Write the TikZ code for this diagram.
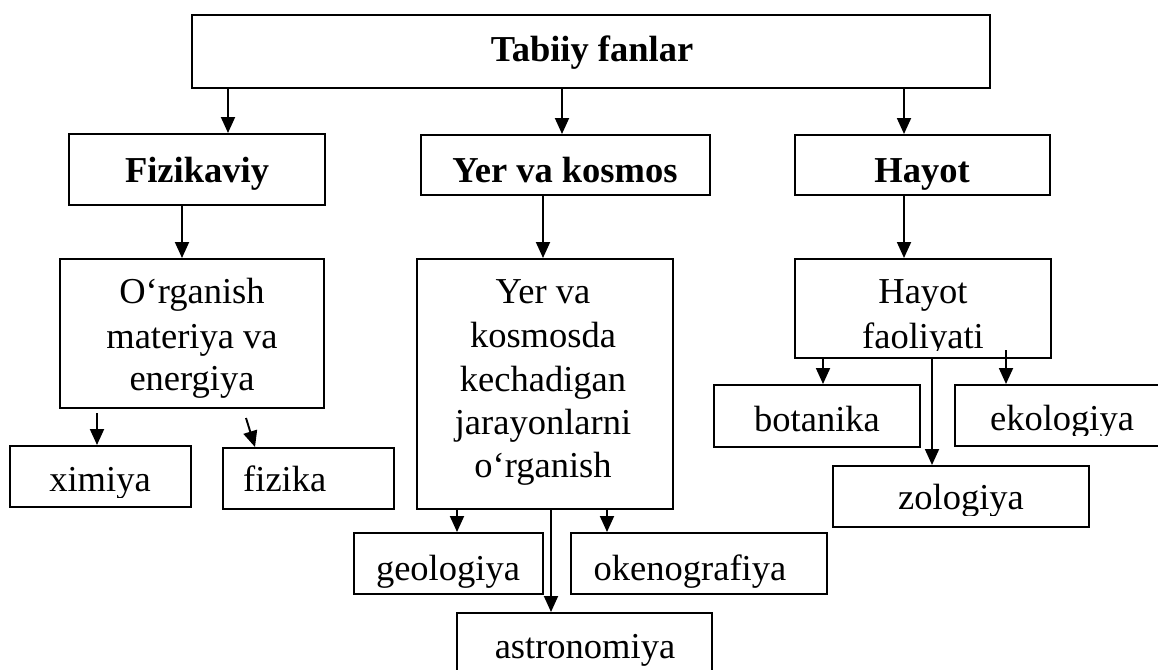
\documentclass[tikz,border=0pt]{standalone}
\usepackage{fontspec}
\setmainfont{Liberation Serif}
\usetikzlibrary{calc,arrows.meta}
\begin{document}
\begin{tikzpicture}[x=1pt,y=-1pt,
  box/.style={draw=black, line width=2pt, rectangle, inner sep=0pt},
  lbl/.style={anchor=base, inner sep=0pt, font=\fontsize{36.5}{44}\selectfont},
  lbll/.style={lbl, anchor=base west},
  head/.style={lbl, font=\fontsize{36.5}{44}\selectfont\bfseries},
  link/.style={-{Triangle[length=16pt,width=14pt]}, line width=1.9pt}]
\useasboundingbox[fill=white] (0,0) rectangle (1158,669);

% ---- boxes ----
\node[box, minimum width=798pt, minimum height=73pt] (root) at (591,51.5) {};
\node[box, minimum width=256pt, minimum height=71pt] (fiz) at (197,169.5) {};
\node[box, minimum width=289pt, minimum height=60pt] (yer) at (565.5,165) {};
\node[box, minimum width=255pt, minimum height=60pt] (hay) at (922.5,165) {};

\node[box, minimum width=264pt, minimum height=149pt] (org) at (192,333.5) {};
\node[box, minimum width=256pt, minimum height=250pt] (yks) at (545,384) {};
\node[box, minimum width=256pt, minimum height=99pt] (hf) at (923,308.5) {};

\node[box, minimum width=181pt, minimum height=61pt] (xim) at (100.5,476.5) {};
\node[box, minimum width=171pt, minimum height=61pt] (fzk) at (308.5,478.5) {};
\node[box, minimum width=189pt, minimum height=61pt] (geo) at (448.5,563.5) {};
\node[box, minimum width=256pt, minimum height=61pt] (oke) at (699,563.5) {};
\node[box, minimum width=255pt, minimum height=77pt] (ast) at (584.5,651.5) {};
\node[box, minimum width=206pt, minimum height=62pt] (bot) at (817,416) {};
\node[box, minimum width=207pt, minimum height=61pt] (eko) at (1058.5,415.5) {};
\node[box, minimum width=256pt, minimum height=61pt] (zol) at (961,496.5) {};

% ---- headings ----
\node[head] (root-t) at (592,62) {Tabiiy fanlar};
\node[head] (fiz-t) at (197,182) {Fizikaviy};
\node[head] (yer-t) at (565,182) {Yer va kosmos};
\node[head] (hay-t) at (922,182) {Hayot};

% ---- descriptions ----
\node[lbl] (org-1) at (192,303) {O‘rganish};
\node[lbl] (org-2) at (192,348) {materiya va};
\node[lbl] (org-3) at (192,390) {energiya};

\node[lbl] (yks-1) at (543,303) {Yer va};
\node[lbl] (yks-2) at (543,347) {kosmosda};
\node[lbl] (yks-3) at (543,391) {kechadigan};
\node[lbl] (yks-4) at (543,434) {jarayonlarni};
\node[lbl] (yks-5) at (543,477) {o‘rganish};

% text of the lower boxes is cut off by the inner bottom margin
\begin{scope}
  \clip (hf.north west) rectangle ($(hf.south east)+(0,-9)$);
  \node[lbl] (hf-1) at (923,303) {Hayot};
  \node[lbl] (hf-2) at (923,348) {faoliyati};
\end{scope}
\begin{scope}
  \clip (xim.north west) rectangle ($(xim.south east)+(0,-11)$);
  \node[lbl] (xim-t) at (100,491) {ximiya};
\end{scope}
\node[lbll] (fzk-t) at (243,491) {fizika};
\begin{scope}
  \clip (geo.north west) rectangle ($(geo.south east)+(0,-8)$);
  \node[lbl] (geo-t) at (448,580) {geologiya};
\end{scope}
\begin{scope}
  \clip (oke.north west) rectangle ($(oke.south east)+(0,-8)$);
  \node[lbl] (oke-t) at (690,580) {okenografiya};
\end{scope}
\node[lbl] (ast-t) at (585,658) {astronomiya};
\node[lbl] (bot-t) at (817,431) {botanika};
\begin{scope}
  \clip (eko.north west) rectangle ($(eko.south east)+(0,-12)$);
  \node[lbl] (eko-t) at (1062,430) {ekologiya};
\end{scope}
\begin{scope}
  \clip (zol.north west) rectangle ($(zol.south east)+(0,-13)$);
  \node[lbl] (zol-t) at (961,509) {zologiya};
\end{scope}

% ---- connectors ----
\draw[link] (228,0 |- root.south) -- (228,0 |- fiz.north);
\draw[link] (562,0 |- root.south) -- (562,0 |- yer.north);
\draw[link] (904,0 |- root.south) -- (904,0 |- hay.north);

\draw[link] (182,0 |- fiz.south) -- (182,0 |- org.north);
\draw[link] (543,0 |- yer.south) -- (543,0 |- yks.north);
\draw[link] (904,0 |- hay.south) -- (904,0 |- hf.north);

\draw[link] ($(97,0 |- org.south)+(0,4)$) -- (97,0 |- xim.north);
\draw[link] ($(246,0 |- org.south)+(0,9)$) -- (255,0 |- fzk.north);

\draw[link] (457,0 |- yks.south) -- (457,0 |- geo.north);
\draw[link] ($(607,0 |- yks.south)+(0,-2)$) -- (607,0 |- oke.north);
\draw[link] (551,0 |- yks.south) -- (551,0 |- ast.north);

\draw[link] (823,0 |- hf.south) -- (823,0 |- bot.north);
\draw[link] ($(1006,0 |- hf.south)+(0,-9)$) -- (1006,0 |- eko.north);
\draw[link] (932,0 |- hf.south) -- (932,0 |- zol.north);
\end{tikzpicture}
\end{document}
